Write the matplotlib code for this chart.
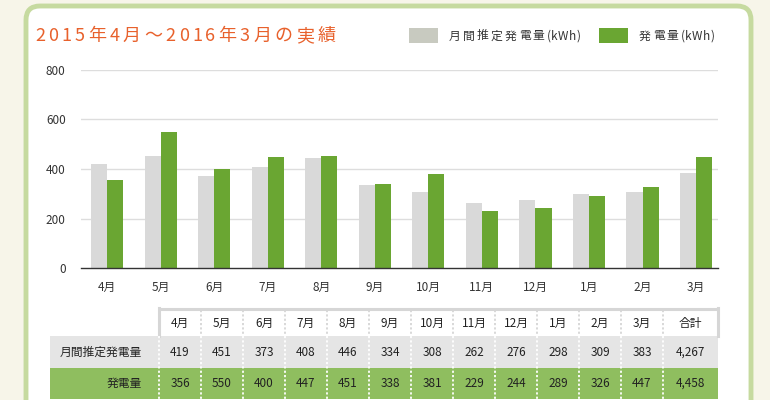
import matplotlib
matplotlib.use("Agg")
import matplotlib.pyplot as plt
from matplotlib.patches import Rectangle, FancyBboxPatch
import numpy as np

plt.rcParams['font.family'] = ['Noto Sans CJK JP', 'DejaVu Sans']

# dane
months = ["4月", "5月", "6月", "7月", "8月", "9月", "10月", "11月", "12月", "1月", "2月", "3月"]
estimated = [419, 451, 373, 408, 446, 334, 308, 262, 276, 298, 309, 383]
generated = [356, 550, 400, 447, 451, 338, 381, 229, 244, 289, 326, 447]
y_ticks = [0, 200, 400, 600, 800]
title = "2015年4月～2016年3月の実績"
legend_labels = ["月間推定発電量(kWh)", "発電量(kWh)"]
row_labels = ["月間推定発電量", "発電量"]
total_label = "合計"

c_orange = "#e8612c"
c_gray_bar = "#d9d9d9"
c_green_bar = "#6aa632"
c_leg_gray = "#c8cac0"
c_row_gray = "#e5e5e5"
c_row_green = "#8fbe5f"

fig = plt.figure(figsize=(7.7, 4.0), dpi=100)
fig.patch.set_facecolor("#f7f5e9")
renderer = fig.canvas.get_renderer()

# tlo w pikselach
bg = fig.add_axes([0, 0, 1, 1], zorder=0)
bg.set_xlim(0, 770)
bg.set_ylim(400, 0)
bg.axis("off")
panel = FancyBboxPatch((26, 6), 725, 430, boxstyle="round,pad=0,rounding_size=14",
                       facecolor="white", edgecolor="#c6da9f", linewidth=3.5)
bg.add_patch(panel)


# tekst z odstepami miedzy znakami (mniejsze dla znakow ASCII)
def spaced_text(x0, y0, s, spacing, ascii_spacing=None, **kw):
    if ascii_spacing is None:
        ascii_spacing = spacing
    xp = x0
    for ch in s:
        t = bg.text(xp, y0, ch, ha="left", va="center", **kw)
        ext = t.get_window_extent(renderer=renderer)
        xp += ext.width + (ascii_spacing if ord(ch) < 128 else spacing)
    return xp


# tytul
spaced_text(35, 36, title, 3.3, color=c_orange, fontsize=13)

# legenda
bg.add_patch(Rectangle((409, 28), 29, 15, facecolor=c_leg_gray, edgecolor="none"))
spaced_text(449, 36, legend_labels[0], 2.2, 0.3, fontsize=8.5, color="#333333")
bg.add_patch(Rectangle((599, 28), 29, 15, facecolor=c_green_bar, edgecolor="none"))
spaced_text(639, 36, legend_labels[1], 2.2, 0.3, fontsize=8.5, color="#333333")

# wykres
ax = fig.add_axes([81 / 770, 1 - 268 / 400, (718 - 81) / 770, 198 / 400], zorder=1)
ax.patch.set_alpha(0)
x = np.arange(len(months))
w = 0.3
ax.bar(x - w / 2, estimated, w, color=c_gray_bar, zorder=2)
ax.bar(x + w / 2, generated, w, color=c_green_bar, zorder=2)
ax.set_xlim(-0.49, 11.41)
ax.set_ylim(0, 800)
ax.set_yticks(y_ticks)
ax.set_yticklabels([str(v) for v in y_ticks], fontsize=8.5, color="#333333")
ax.set_xticks(x)
ax.set_xticklabels(months, fontsize=8.5, color="#333333")
ax.tick_params(length=0, pad=9)
ax.tick_params(axis="y", pad=11)
for v in y_ticks[1:]:
    ax.axhline(v, color="#dddddd", linewidth=1, zorder=1)
for s in ["top", "right", "left"]:
    ax.spines[s].set_visible(False)
ax.spines["bottom"].set_color("#333333")
ax.spines["bottom"].set_linewidth(1)
ax.spines["bottom"].set_zorder(3)

# tabela
col_left = 159
col_w = 42
tot_w = 55
right = col_left + col_w * 12 + tot_w
y_head, y_r1, y_r2, y_end = 309, 336, 368, 399

bg.add_patch(Rectangle((50, y_r1), right - 50, y_r2 - y_r1, facecolor=c_row_gray, edgecolor="none"))
bg.add_patch(Rectangle((50, y_r2), right - 50, y_end - y_r2, facecolor=c_row_green, edgecolor="none"))
bg.plot([col_left, right], [y_head, y_head], color="#d6d6d6", linewidth=2.2, solid_capstyle="butt")
bg.plot([col_left, col_left], [y_head - 1, y_r1], color="#d6d6d6", linewidth=2.2)
bg.plot([right, right], [y_head - 1, y_r1], color="#d6d6d6", linewidth=2.2)

heads = months + [total_label]
vals1 = [str(v) for v in estimated] + ["{:,}".format(sum(estimated))]
vals2 = [str(v) for v in generated] + ["{:,}".format(sum(generated))]
for i in range(13):
    if i < 12:
        x0 = col_left + i * col_w
        cw = col_w
    else:
        x0 = col_left + 12 * col_w
        cw = tot_w
    cx = x0 + cw / 2
    bg.text(cx, (y_head + y_r1) / 2 + 1, heads[i], fontsize=8.5, ha="center", va="center", color="#222222")
    bg.text(cx, (y_r1 + y_r2) / 2, vals1[i], fontsize=8.5, ha="center", va="center", color="#222222")
    bg.text(cx, (y_r2 + y_end) / 2, vals2[i], fontsize=8.5, ha="center", va="center", color="#222222")
    if i > 0:
        bg.plot([x0, x0], [y_head + 1, y_r1], color="#d6d6d6", linewidth=1.3, linestyle=(0, (1.2, 1.2)))
    bg.plot([x0, x0], [y_r1, y_end], color="white", linewidth=1.3, linestyle=(0, (1.2, 1.2)))

bg.text(142, (y_r1 + y_r2) / 2, row_labels[0], fontsize=8.5, ha="right", va="center", color="#222222")
bg.text(142, (y_r2 + y_end) / 2, row_labels[1], fontsize=8.5, ha="right", va="center", color="#222222")

fig.savefig("out.png", dpi=100, facecolor=fig.get_facecolor())
